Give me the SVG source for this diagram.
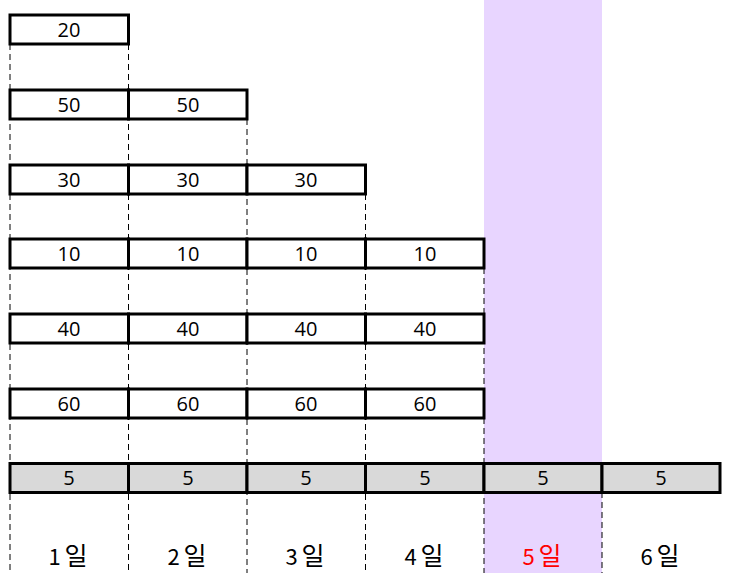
<svg xmlns="http://www.w3.org/2000/svg" width="737" height="585" viewBox="0 0 737 585">
<style>
.cell{fill:#fff;stroke:#000;stroke-width:3}
.g{fill:#d9d9d9}
.dash{stroke:#000;stroke-width:1;stroke-dasharray:6 4;fill:none}
.n{font-family:"Open Sans","Noto Sans CJK KR",sans-serif;font-size:20px;text-anchor:middle;fill:#000}
.d{font-family:"Noto Sans CJK KR",sans-serif;font-size:22px;text-anchor:middle;fill:#000}
.h{font-size:25px}
</style>
<rect x="484" y="0" width="118" height="573" fill="#e8d5ff"/>
<g id="connectors">
<line class="dash" x1="10" y1="44" x2="10" y2="573"/>
<line class="dash" x1="128.5" y1="44" x2="128.5" y2="573"/>
<line class="dash" x1="247" y1="119" x2="247" y2="573"/>
<line class="dash" x1="365.5" y1="194" x2="365.5" y2="573"/>
<line class="dash" x1="484" y1="268" x2="484" y2="573"/>
<line class="dash" x1="602" y1="492" x2="602" y2="573"/>
</g>
<g id="row1">
<rect class="cell" x="10" y="15" width="118.5" height="29"/>
<text class="n" x="69" y="36.5">20</text>
</g>
<g id="row2">
<rect class="cell" x="10" y="90" width="118.5" height="29"/>
<rect class="cell" x="128.5" y="90" width="118.5" height="29"/>
<text class="n" x="69" y="111.5">50</text>
<text class="n" x="188" y="111.5">50</text>
</g>
<g id="row3">
<rect class="cell" x="10" y="165" width="118.5" height="29"/>
<rect class="cell" x="128.5" y="165" width="118.5" height="29"/>
<rect class="cell" x="247" y="165" width="118.5" height="29"/>
<text class="n" x="69" y="186.5">30</text>
<text class="n" x="188" y="186.5">30</text>
<text class="n" x="306" y="186.5">30</text>
</g>
<g id="row4">
<rect class="cell" x="10" y="239" width="118.5" height="29"/>
<rect class="cell" x="128.5" y="239" width="118.5" height="29"/>
<rect class="cell" x="247" y="239" width="118.5" height="29"/>
<rect class="cell" x="365.5" y="239" width="118.5" height="29"/>
<text class="n" x="69" y="260.5">10</text>
<text class="n" x="188" y="260.5">10</text>
<text class="n" x="306" y="260.5">10</text>
<text class="n" x="425" y="260.5">10</text>
</g>
<g id="row5">
<rect class="cell" x="10" y="314" width="118.5" height="29"/>
<rect class="cell" x="128.5" y="314" width="118.5" height="29"/>
<rect class="cell" x="247" y="314" width="118.5" height="29"/>
<rect class="cell" x="365.5" y="314" width="118.5" height="29"/>
<text class="n" x="69" y="335.5">40</text>
<text class="n" x="188" y="335.5">40</text>
<text class="n" x="306" y="335.5">40</text>
<text class="n" x="425" y="335.5">40</text>
</g>
<g id="row6">
<rect class="cell" x="10" y="389" width="118.5" height="29"/>
<rect class="cell" x="128.5" y="389" width="118.5" height="29"/>
<rect class="cell" x="247" y="389" width="118.5" height="29"/>
<rect class="cell" x="365.5" y="389" width="118.5" height="29"/>
<text class="n" x="69" y="410.5">60</text>
<text class="n" x="188" y="410.5">60</text>
<text class="n" x="306" y="410.5">60</text>
<text class="n" x="425" y="410.5">60</text>
</g>
<g id="row7">
<rect class="cell g" x="10" y="463.5" width="118.5" height="29"/>
<rect class="cell g" x="128.5" y="463.5" width="118.5" height="29"/>
<rect class="cell g" x="247" y="463.5" width="118.5" height="29"/>
<rect class="cell g" x="365.5" y="463.5" width="118.5" height="29"/>
<rect class="cell g" x="484" y="463.5" width="118" height="29"/>
<rect class="cell g" x="602" y="463.5" width="118" height="29"/>
<text class="n" x="69" y="485">5</text>
<text class="n" x="188" y="485">5</text>
<text class="n" x="306" y="485">5</text>
<text class="n" x="425" y="485">5</text>
<text class="n" x="543" y="485">5</text>
<text class="n" x="661" y="485">5</text>
</g>
<g id="labels">
<text class="d" x="68" y="565">1<tspan class="h" dx="4">일</tspan></text>
<text class="d" x="187" y="565">2<tspan class="h" dx="4">일</tspan></text>
<text class="d" x="305" y="565">3<tspan class="h" dx="4">일</tspan></text>
<text class="d" x="424" y="565">4<tspan class="h" dx="4">일</tspan></text>
<text class="d" x="542" y="565" style="fill:#ff0000">5<tspan class="h" dx="4">일</tspan></text>
<text class="d" x="660" y="565">6<tspan class="h" dx="4">일</tspan></text>
</g>
</svg>
